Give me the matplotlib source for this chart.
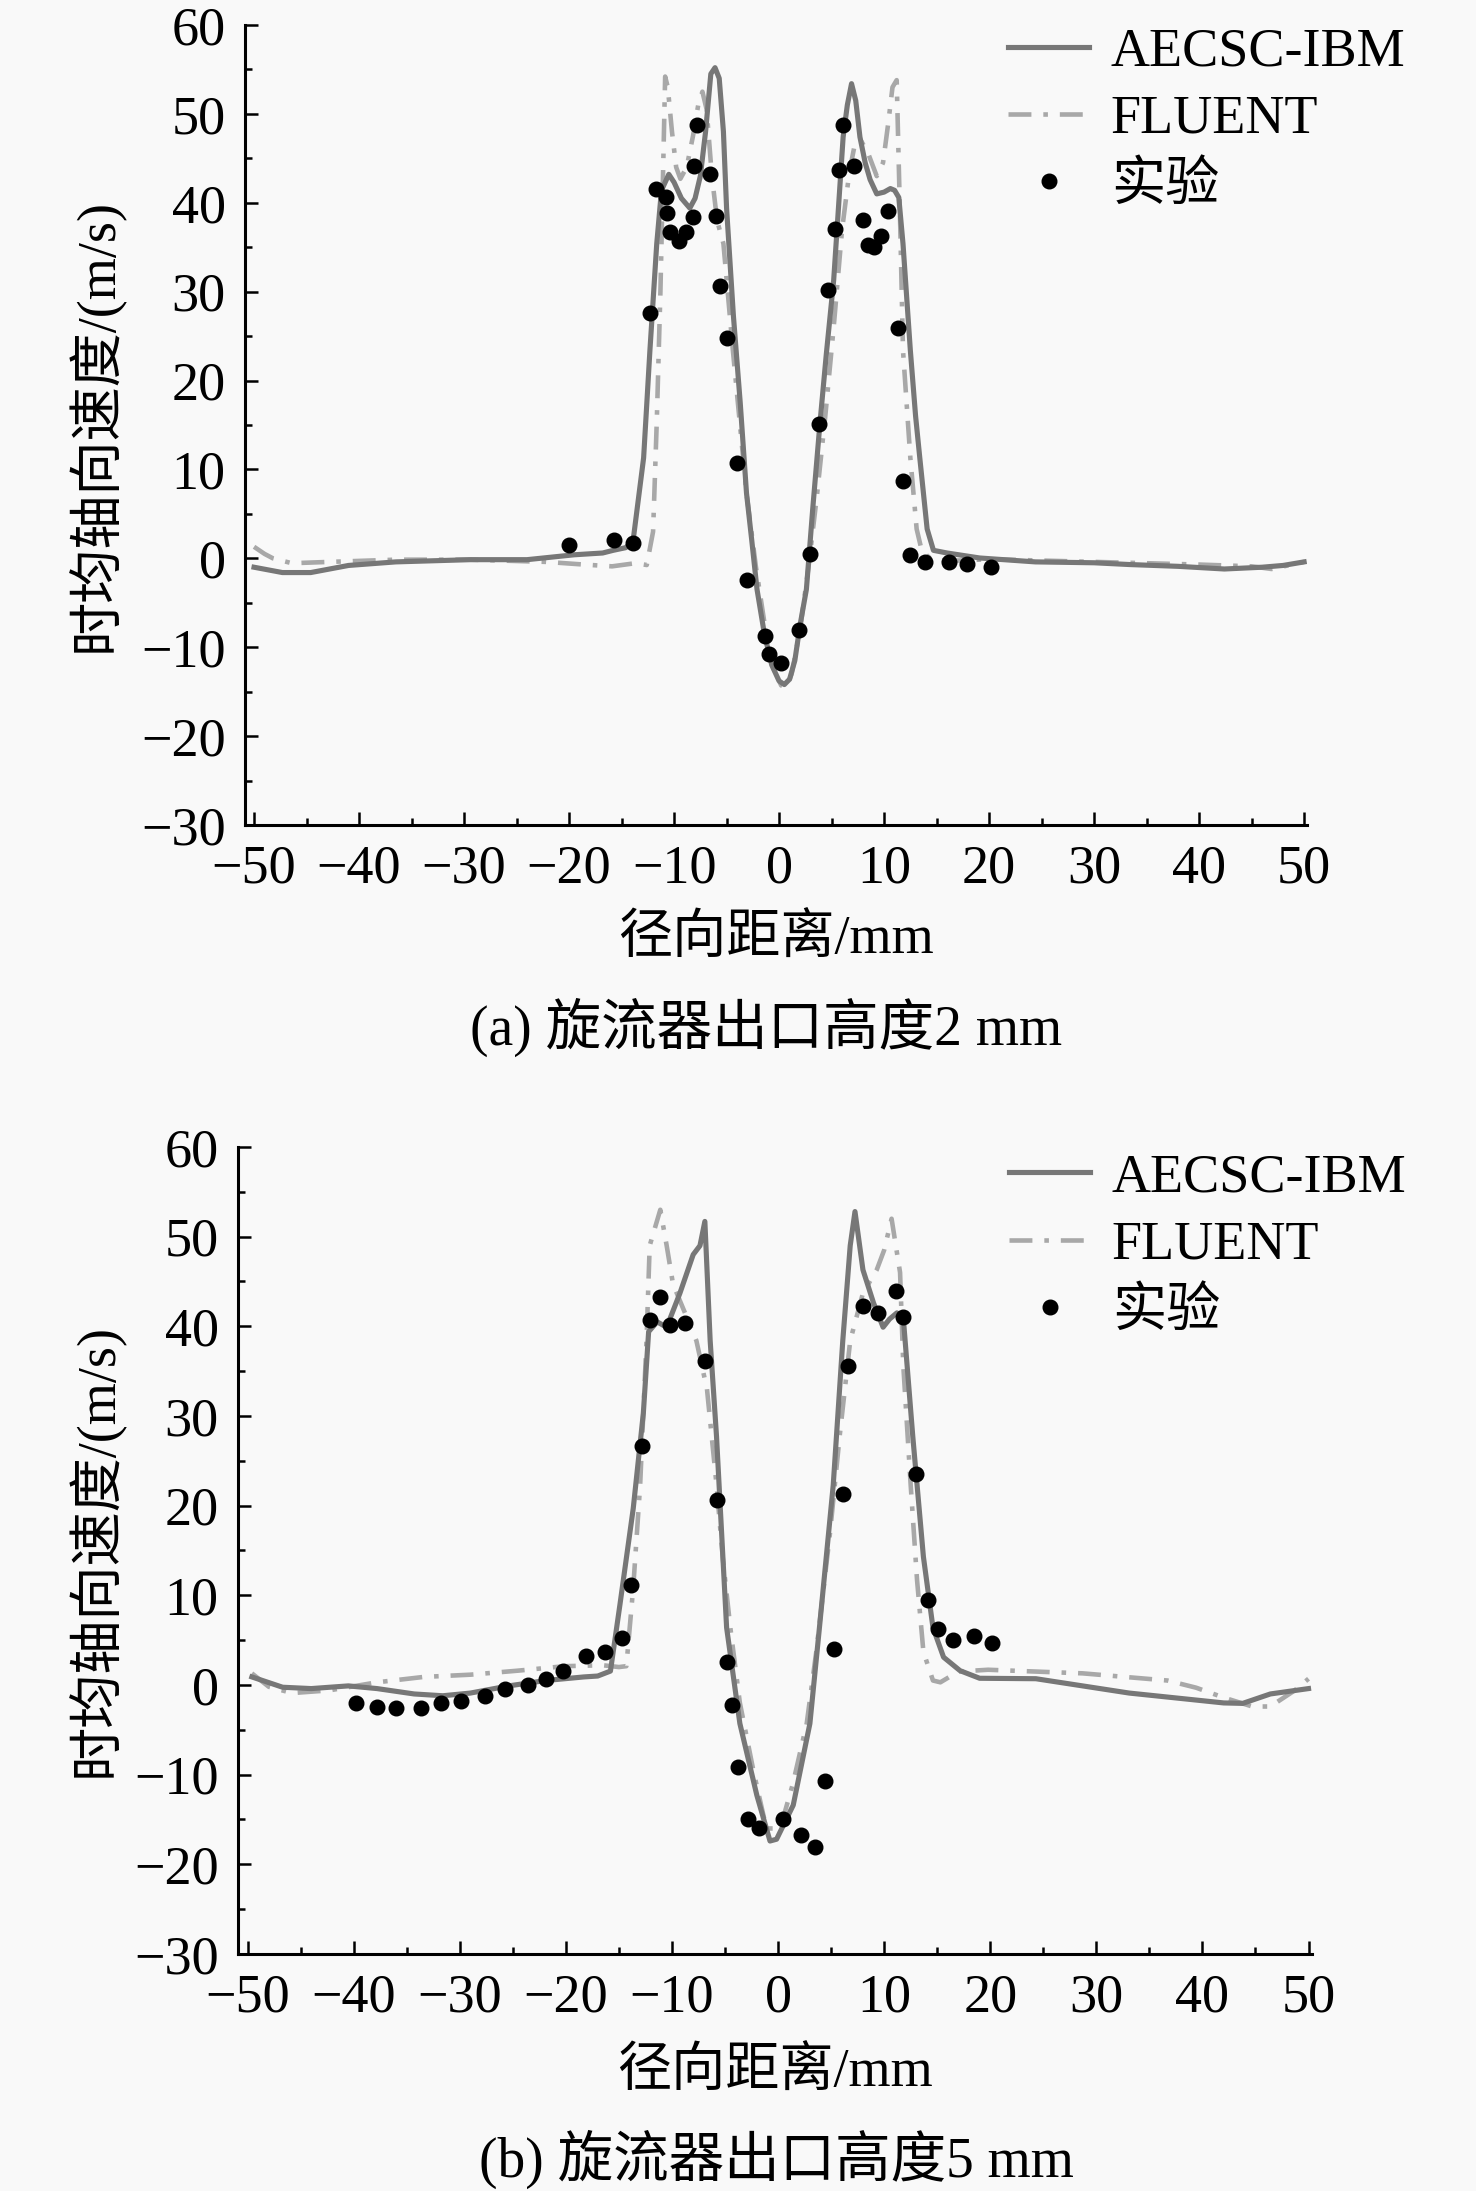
import matplotlib
matplotlib.use("Agg")
import matplotlib.pyplot as plt
from matplotlib.ticker import MultipleLocator

plt.rcParams['font.family'] = ['Liberation Serif', 'Noto Sans CJK SC', 'DejaVu Sans']
plt.rcParams['axes.unicode_minus'] = True

# ---------------- (a) outlet height 2 mm ----------------
a_ibm_x = [-50, -47.3, -44.6, -41, -36.5, -29.4, -24, -19.5, -16.8, -15.8, -14.6, -13.9, -12.9, -12.3,
           -11.65, -11.2, -10.5, -10.0, -9.3, -8.5, -8.0, -7.5, -7.0, -6.5, -6.1, -5.7, -5.3, -5.0,
           -4.35, -3.7, -3.1, -2.6, -2.1, -1.4, -0.7, 0.0, 0.5, 1.0, 1.5, 2.0, 2.6, 3.2, 3.9, 4.5, 5.2,
           6.1, 6.5, 6.9, 7.3, 7.7, 8.2, 8.67, 9.3, 10.0, 10.6, 11.0, 11.4, 11.8, 12.5, 13.0, 13.4,
           14.1, 14.7, 16.0, 19.1, 24.4, 30, 33.4, 38, 42.4, 46, 48, 50.0]
a_ibm_y = [-1.0, -1.6, -1.6, -0.8, -0.4, -0.15, -0.15, 0.4, 0.6, 0.9, 1.2, 2.0, 11.3, 23.4,
           35.4, 41.4, 43.2, 42.3, 40.5, 39.4, 40.5, 43.0, 48.0, 54.5, 55.2, 54.0, 48.0, 39.4,
           27.3, 17.5, 7.3, 2.0, -3.5, -8.5, -12.0, -13.8, -14.2, -13.6, -11.5, -7.5, -3.5, 5.5, 15.3, 23.0, 31.3,
           47.4, 51.0, 53.4, 51.5, 47.4, 44.5, 42.6, 41.0, 41.2, 41.6, 41.4, 40.6, 35.4, 23.4, 16.0, 11.3,
           3.3, 0.9, 0.6, 0.04, -0.4, -0.5, -0.7, -0.9, -1.2, -1.0, -0.8, -0.4]

a_flu_x = [-50, -49, -48.2, -46.4, -42.8, -36.5, -29.4, -22.2, -18.6, -15.9, -13.7, -12.6, -12.0, -11.65,
           -11.3, -11.0, -10.85, -10.6, -10.2, -9.8, -9.4, -8.8, -8.2, -7.7, -7.3, -6.9, -6.4, -5.9,
           -5.3, -4.4, -3.1, -2.2, -1.3, -0.5, 0.2, 0.7, 1.2, 2.0, 2.8, 3.6, 4.4, 5.2, 6.0, 6.7, 7.2,
           7.8, 8.5, 9.3, 9.9, 10.4, 10.8, 11.2, 11.5, 11.8, 12.5, 13.1, 13.6, 14.4, 16, 20, 30,
           40, 45, 46.9, 50.0]
a_flu_y = [1.3, 0.5, 0.0, -0.55, -0.4, -0.15, -0.15, -0.4, -0.7, -0.9, -0.55, -0.75, 3.0, 15.3,
           30.0, 46.0, 54.2, 53.0, 48.0, 44.0, 42.7, 44.0, 47.5, 51.0, 52.5, 50.5, 43.0, 38.0,
           35.4, 23.4, 7.3, -1.0, -8.0, -12.5, -14.3, -14.5, -13.0, -8.0, -1.0, 7.0, 16.0, 26.0, 37.0, 43.5, 46.5,
           47.0, 45.5, 43.0, 44.5, 49.0, 53.0, 53.8, 39.4, 23.4, 11.3, 3.3, 0.8, 0.0, -0.3, -0.1, -0.4,
           -0.7, -0.9, -1.2, -0.4]

a_exp_x = [-20.0, -15.7, -13.9, -12.3, -11.7, -10.8, -10.7, -10.4, -9.5, -8.9, -8.2, -8.1, -7.8, -6.6,
           -6.0, -5.6, -5.0, -4.0, -3.1, -1.3, -0.94, 0.22, 1.9, 2.9, 3.8, 4.7, 5.3, 5.7, 6.1, 7.1,
           8.0, 8.5, 9.0, 9.7, 10.4, 11.3, 11.8, 12.5, 13.9, 16.2, 17.9, 20.2]
a_exp_y = [1.5, 2.05, 1.7, 27.6, 41.6, 40.6, 38.9, 36.7, 35.7, 36.7, 38.4, 44.1, 48.7, 43.2,
           38.5, 30.6, 24.8, 10.7, -2.4, -8.7, -10.8, -11.8, -8.1, 0.5, 15.1, 30.2, 37.1, 43.7, 48.8, 44.1,
           38.1, 35.3, 35.0, 36.3, 39.1, 25.9, 8.7, 0.4, -0.4, -0.4, -0.6, -1.0]

# ---------------- (b) outlet height 5 mm ----------------
b_ibm_x = [-49.6, -46.7, -44, -40.5, -37.8, -34.3, -31.6, -29, -25.4, -21.9, -18.3, -17, -15.8, -14.9,
           -13.65, -12.7, -12.2, -11.4, -10.5, -9.25, -8.0, -7.36, -6.9, -6.4, -5.8, -4.85, -3.6, -2.0,
           -0.76, -0.14, 1.43, 3.0, 3.9, 5.2, 6.1, 6.8, 7.25, 8.0, 9.0, 9.9, 10.5, 11.2, 11.8, 12.7,
           13.7, 14.6, 15.6, 17.15, 19.0, 24.3, 33.1, 42.0, 43.8, 46.4, 50.0]
b_ibm_y = [0.9, -0.25, -0.4, -0.1, -0.4, -1.0, -1.2, -0.9, -0.1, 0.5, 0.9, 1.0, 1.55, 9.0,
           19.7, 30.3, 39.4, 40.5, 39.9, 43.7, 48.0, 49.0, 51.7, 38.4, 27.7, 6.4, -4.3, -12.3,
           -17.4, -17.2, -13.4, -4.3, 6.4, 22.3, 38.4, 49.0, 52.8, 46.3, 42.6, 39.9, 40.8, 41.5, 41.0, 27.7,
           14.3, 6.4, 3.1, 1.6, 0.75, 0.7, -0.9, -2.0, -2.05, -1.0, -0.4]

b_flu_x = [-49.6, -48, -45.8, -42.3, -37.8, -33.4, -29, -24.5, -20.1, -16.5, -15.0, -14.3, -13.65, -13.0,
           -12.4, -12.1, -11.1, -10.5, -9.9, -8.6, -7.7, -6.7, -5.8, -5.2, -4.5, -3.6, -2.3, -1.1,
           0.2, 1.4, 2.7, 3.6, 4.9, 5.8, 6.8, 8.0, 9.3, 10.0, 10.7, 11.5, 11.8, 12.5, 13.1, 13.7,
           14.6, 15.3, 17.0, 19.8, 28.7, 36.7, 39.4, 42.0, 44.7, 46.4, 48.7, 50.0]
b_flu_y = [1.3, -0.2, -0.9, -0.6, 0.3, 0.9, 1.15, 1.6, 2.1, 2.2, 2.0, 2.1, 10.9, 22.3,
           38.4, 49.0, 53.0, 49.0, 44.7, 41.0, 38.4, 33.0, 22.3, 14.0, 6.4, -2.0, -9.7, -16.0,
           -16.0, -11.0, -4.3, 3.7, 17.0, 27.7, 38.4, 43.7, 46.3, 48.5, 52.0, 46.0, 35.7, 22.3, 11.7, 3.7,
           0.5, 0.3, 1.5, 1.7, 1.3, 0.5, -0.3, -1.4, -2.4, -2.4, -0.6, 0.7]

b_exp_x = [-39.8, -37.8, -36.0, -33.7, -31.8, -29.9, -27.6, -25.7, -23.6, -21.9, -20.3, -18.1, -16.3, -14.7,
           -13.9, -12.8, -12.1, -11.1, -10.2, -8.8, -6.9, -5.8, -4.8, -4.3, -3.8, -2.8, -1.8, 0.5,
           2.2, 3.5, 4.4, 5.3, 6.1, 6.6, 8.0, 9.4, 11.1, 11.8, 13.0, 14.1, 15.1, 16.5, 18.5, 20.2]
b_exp_y = [-2.0, -2.4, -2.6, -2.6, -2.0, -1.8, -1.2, -0.5, 0.0, 0.7, 1.6, 3.2, 3.7, 5.2,
           11.2, 26.7, 40.7, 43.3, 40.2, 40.4, 36.1, 20.6, 2.6, -2.2, -9.1, -14.9, -15.9, -14.9,
           -16.7, -18.1, -10.7, 4.0, 21.3, 35.6, 42.3, 41.5, 43.9, 41.0, 23.5, 9.5, 6.2, 5.0, 5.5, 4.7]

labels = ['AECSC-IBM', 'FLUENT', '实验']
xlabel = '径向距离/mm'
ylabel = '时均轴向速度/(m/s)'
captions = ['(a) 旋流器出口高度2 mm', '(b) 旋流器出口高度5 mm']

FS = 39
IBM_C = '#777777'
FLU_C = '#a8a8a8'
BG = '#f9f9f9'

fig = plt.figure(figsize=(14.76, 21.91), dpi=100, facecolor=BG)

axes_specs = [
    dict(rect=[0.16599, 0.62346, 0.71970, 0.36513], xlim=(-50.86, 50.3),
         data=(a_ibm_x, a_ibm_y, a_flu_x, a_flu_y, a_exp_x, a_exp_y),
         ylab_x=-0.141, xlab_y=-0.145, leg=(0.6829, 0.9876)),
    dict(rect=[0.16125, 0.10817, 0.72744, 0.36833], xlim=(-50.905, 50.3),
         data=(b_ibm_x, b_ibm_y, b_flu_x, b_flu_y, b_exp_x, b_exp_y),
         ylab_x=-0.133, xlab_y=-0.148, leg=(0.6836, 0.4738)),
]

for spec in axes_specs:
    ax = fig.add_axes(spec['rect'])
    ax.set_facecolor(BG)
    ix, iy, fx, fy, ex, ey = spec['data']
    ax.plot(ix, iy, color=IBM_C, lw=3.7, solid_joinstyle='round', label=labels[0], zorder=3)
    ax.plot(fx, fy, color=FLU_C, lw=3.3, dashes=[5.0, 2.6, 1.0, 2.6], label=labels[1], zorder=2)
    ax.plot(ex, ey, 'o', color='black', ms=10.5, mec='black', label=labels[2], zorder=4)

    ax.set_xlim(*spec['xlim'])
    ax.set_ylim(-30, 60)
    ax.xaxis.set_major_locator(MultipleLocator(10))
    ax.xaxis.set_minor_locator(MultipleLocator(5))
    ax.yaxis.set_major_locator(MultipleLocator(10))
    ax.yaxis.set_minor_locator(MultipleLocator(5))
    for s in ['top', 'right']:
        ax.spines[s].set_visible(False)
    for s in ['left', 'bottom']:
        ax.spines[s].set_linewidth(2.2)
    ax.tick_params(which='both', direction='in', width=1.8, labelsize=FS)
    ax.tick_params(which='major', length=9.5)
    ax.tick_params(which='minor', length=5)
    ax.tick_params(axis='y', pad=14)
    ax.tick_params(axis='x', pad=13.5)

    ax.set_ylabel(ylabel, fontsize=FS, va='center', ha='center')
    ax.yaxis.set_label_coords(spec['ylab_x'], 0.5)
    ax.set_xlabel(xlabel, fontsize=FS, va='center', ha='center')
    ax.xaxis.set_label_coords(0.5, spec['xlab_y'])

    ax.legend(loc='upper left', bbox_to_anchor=spec['leg'], bbox_transform=fig.transFigure,
              frameon=False, fontsize=FS, borderpad=0, borderaxespad=0,
              handlelength=1.5, handletextpad=0.4, labelspacing=0.31)

fig.text(766 / 1476, 1 - 1027 / 2191, captions[0], fontsize=40, ha='center', va='center')
fig.text(776 / 1476, 1 - 2159 / 2191, captions[1], fontsize=40, ha='center', va='center')

fig.savefig('out.png', dpi=100, facecolor=BG)
